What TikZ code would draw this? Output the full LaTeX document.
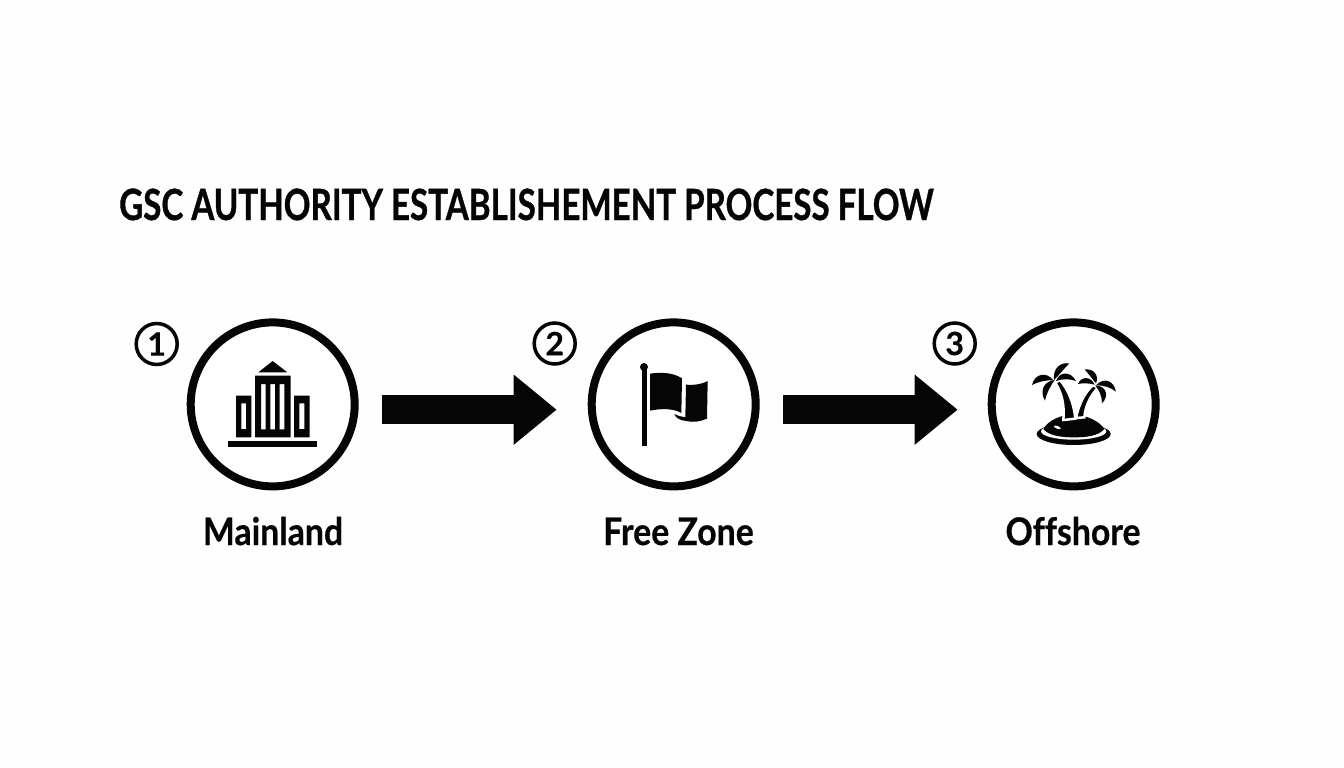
\documentclass[tikz,border=0pt]{standalone}
\usepackage{fontspec}
\setmainfont[BoldFeatures={FakeBold=0.5}]{Lato}
\newfontfamily\condfont[FakeStretch=0.77,BoldFeatures={FakeBold=0.8}]{Lato}
\newfontfamily\labfont[FakeStretch=0.89,BoldFeatures={FakeBold=0.5},Ligatures=NoCommon]{Lato}
\usetikzlibrary{arrows.meta}
\definecolor{ink}{HTML}{050505}
\tikzset{
  stage/.style={circle,draw=ink,line width=8pt,minimum size=164pt,inner sep=0pt,outer sep=0pt,fill=white},
  badge/.style={circle,draw=ink,line width=3.5pt,minimum size=41pt,inner sep=0pt,outer sep=0pt,text=ink,font=\fontsize{32}{32}\selectfont\bfseries},
  stagelabel/.style={anchor=base,text=ink,inner sep=0pt,font=\labfont\fontsize{38}{38}\selectfont\bfseries},
  flow/.style={draw=ink,line width=29.3pt,-{Triangle[length=43pt,width=67.3pt]}},
  zoomed/.style={x=0.33333pt,y=-0.33333pt},
}
\begin{document}
\begin{tikzpicture}[x=1pt,y=-1pt]
\useasboundingbox[fill=white!99.6!black] (0,0) rectangle (1344,768);
\node[anchor=base west,inner sep=0pt,text=ink,font=\condfont\fontsize{43}{43}\selectfont\bfseries] (title) at (119,220) {GSC AUTHORITY ESTABLISHEMENT PROCESS FLOW};
\node[stage] (c1) at (272.7,404.4) {};
\node[stage] (c2) at (673.7,404.4) {};
\node[stage] (c3) at (1073.7,404.4) {};
\node[badge] (b1) at (156.7,344) {1};
\node[badge] (b2) at (554.7,343.5) {2};
\node[badge] (b3) at (954.7,343.5) {3};
\node[stagelabel] (l1) at (273,545) {Mainland};
\node[stagelabel] (l2) at (678.5,545) {Free Zone};
\node[stagelabel] (l3) at (1073,545) {Offshore};
\draw[flow] ([xshift=27pt,yshift=-5.3pt]c1.east) -- ([xshift=-35pt,yshift=-5.3pt]c2.west);
\draw[flow] ([xshift=27.6pt,yshift=-5.3pt]c2.east) -- ([xshift=-34pt,yshift=-5.3pt]c3.west);
% building
\begin{scope}[shift={(180,310)},zoomed]
\fill[ink] (144,393) rectangle (410,410);
\fill[ink] (235,187) -- (278,153) -- (322,187) -- cycle;
\fill[ink,even odd rule] (225,197) rectangle (332,382)
  (243,222) rectangle (257,358) (271,222) rectangle (285,358) (299,222) rectangle (313,358);
\fill[ink,even odd rule] (168,257) rectangle (214,382) (184,280) rectangle (198,357);
\fill[ink,even odd rule] (342,257) rectangle (389,382) (358,280) rectangle (373,357);
\end{scope}
% flag
\begin{scope}[shift={(580,310)},zoomed]
\fill[ink] (186,178) rectangle (200,407);
\fill[ink] (192,171) circle[radius=12];
\fill[ink] (210,191) .. controls (245,186) and (280,188) .. (306,205)
  -- (304,309) .. controls (280,295) and (245,295) .. (210,302) -- cycle;
\fill[ink] (318,224) .. controls (340,226) and (362,224) .. (383,213)
  -- (381,326) .. controls (360,335) and (340,338) .. (318,333)
  .. controls (300,330) and (288,326) .. (283,312)
  .. controls (295,318) and (305,320) .. (316,322) -- cycle;
\end{scope}
% island
\begin{scope}[shift={(980,310)},zoomed]
\fill[ink] (281,372) ellipse[x radius=111,y radius=33];
\fill[white] (281,364) ellipse[x radius=98,y radius=25];
\fill[ink] (190,357) .. controls (205,330) and (245,314) .. (278,314)
  .. controls (320,314) and (360,335) .. (373,357)
  .. controls (355,378) and (320,382) .. (281,382)
  .. controls (240,382) and (205,376) .. (190,357) -- cycle;
\fill[white,rotate around={-20:(232,352)}] (232,352) ellipse[x radius=11,y radius=4];
\filldraw[fill=ink,draw=white,line width=2.5pt] (226,218) .. controls (246,250) and (254,285) .. (250,330)
  -- (286,326) .. controls (282,280) and (264,238) .. (240,210) -- cycle;
\filldraw[fill=ink,draw=white,line width=2.5pt] (338,226) .. controls (312,250) and (296,285) .. (288,324)
  -- (313,322) .. controls (316,285) and (332,258) .. (354,232) -- cycle;
\fill[ink] (222,210) .. controls (218,178) and (238,156) .. (268,160)
  .. controls (252,176) and (240,192) .. (222,210) -- cycle;
\fill[ink] (228,213) .. controls (240,182) and (272,184) .. (288,213)
  .. controls (268,206) and (248,206) .. (228,213) -- cycle;
\fill[ink] (220,211) .. controls (200,184) and (164,190) .. (156,225)
  .. controls (178,214) and (198,210) .. (220,211) -- cycle;
\fill[ink] (224,210) .. controls (190,214) and (178,244) .. (195,272)
  .. controls (200,248) and (210,230) .. (224,210) -- cycle;
\fill[ink] (348,220) .. controls (358,196) and (342,176) .. (314,178)
  .. controls (326,192) and (336,206) .. (348,220) -- cycle;
\fill[ink] (344,224) .. controls (332,198) and (304,198) .. (294,222)
  .. controls (312,218) and (328,220) .. (344,224) -- cycle;
\fill[ink] (348,226) .. controls (372,200) and (402,212) .. (408,245)
  .. controls (392,232) and (372,226) .. (348,226) -- cycle;
\fill[ink] (346,226) .. controls (380,228) and (388,258) .. (366,280)
  .. controls (366,258) and (358,242) .. (346,226) -- cycle;
\end{scope}
\end{tikzpicture}
\end{document}
